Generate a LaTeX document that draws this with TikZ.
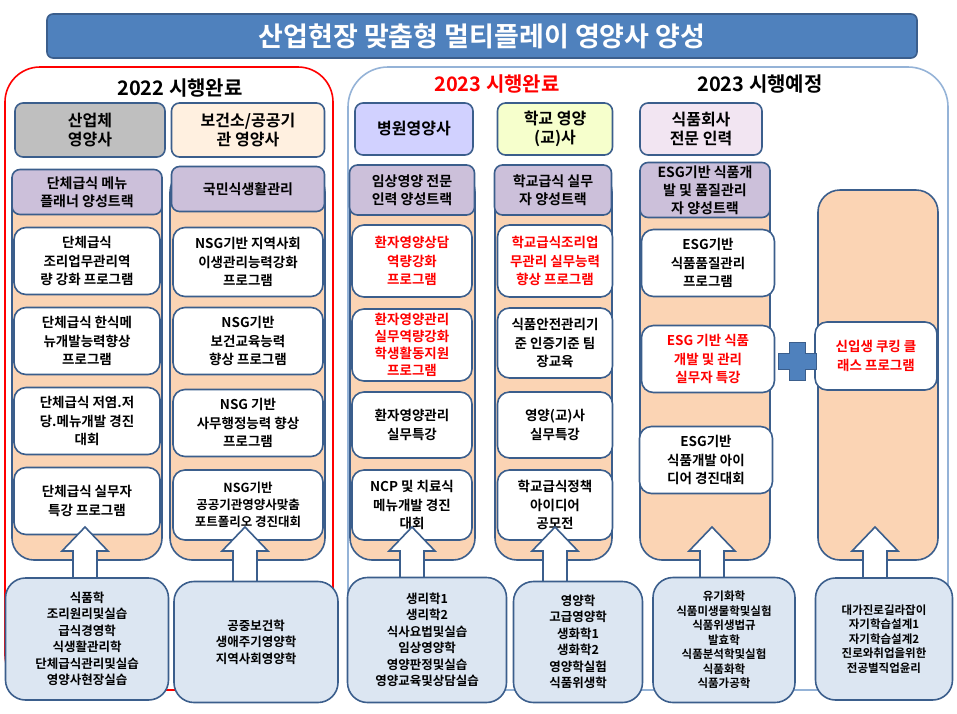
\documentclass[tikz,border=0pt]{standalone}
\usepackage{fontspec}
\setmainfont{Noto Sans CJK KR}[BoldFont={Noto Sans CJK KR Bold}]
\definecolor{edge}{HTML}{3B5E8C}
\definecolor{peach}{HTML}{FBD4B4}
\definecolor{lav}{HTML}{CCC0DA}
\definecolor{pale}{HTML}{DCE6F2}
\definecolor{titleblue}{HTML}{4F81BD}
\definecolor{frame}{HTML}{95B3D7}

\tikzset{
	col/.style={draw=edge, line width=1.6pt, fill=peach, rounded corners=22pt},
	head/.style={draw=edge, line width=1.6pt, rounded corners=8pt, align=center, font=\bfseries\fontsize{16}{19}\selectfont, inner sep=1pt},
	track/.style={draw=edge, line width=1.6pt, fill=lav, rounded corners=8pt, align=center, font=\bfseries\fontsize{14}{18}\selectfont, inner sep=1pt},
	prog/.style={draw=edge, line width=1.6pt, fill=white, rounded corners=12pt, align=center, font=\bfseries\fontsize{13.5}{18.5}\selectfont, inner sep=1pt},
	base/.style={draw=edge, line width=1.6pt, fill=pale, rounded corners=20pt, align=center, font=\bfseries\fontsize{12.5}{16.5}\selectfont, inner sep=1pt},
	uparrow/.style={draw=edge, line width=1.6pt, fill=white, line join=miter},
}

\begin{document}
\begin{tikzpicture}[x=1pt, y=-1pt]
	\useasboundingbox (0,0) rectangle (957,713);

	% title
	\node[draw=edge, line width=1.6pt, fill=titleblue, rounded corners=6pt, minimum width=870pt, minimum height=44pt, text=white, font=\bfseries\fontsize{27}{30}\selectfont] (title) at (482,36) {산업현장 맞춤형 멀티플레이 영양사 양성};

	% frames
	\draw[red, line width=1.6pt, rounded corners=35pt] (5,67) rectangle (333,690);
	\draw[frame, line width=1.6pt, rounded corners=40pt] (348,67) rectangle (948,690);
	\node[font=\bfseries\fontsize{20}{24}\selectfont] (y22) at (180,88) {2022 시행완료};
	\node[font=\bfseries\fontsize{20}{24}\selectfont, text=red] (y23a) at (497,84) {2023 시행완료};
	\node[font=\bfseries\fontsize{20}{24}\selectfont] (y23b) at (760,84) {2023 시행예정};

	% columns
	\draw[col] (12,170) rectangle (162,560);
	\draw[col] (170,170) rectangle (325,560);
	\draw[col] (350,170) rectangle (475,560);
	\draw[col] (495,170) rectangle (612,560);
	\draw[col] (640,170) rectangle (770,560);
	\draw[col] (818,190) rectangle (938,560);

	% headers
	\node[head, fill=gray!50, minimum width=150pt, minimum height=54pt] (h1) at (90,130) {산업체\\영양사};
	\node[head, fill=orange!12, minimum width=153pt, minimum height=54pt] (h2) at (248,130) {보건소/공공기\\관 영양사};
	\node[head, fill=blue!18, minimum width=118pt, minimum height=52pt] (h3) at (414,129) {병원영양사};
	\node[head, fill=green!18!yellow!20, minimum width=115pt, minimum height=52pt] (h4) at (555,129) {학교 영양\\(교)사};
	\node[head, fill=violet!10, minimum width=122pt, minimum height=52pt] (h5) at (701,129) {식품회사\\전문 인력};

	% tracks
	\node[track, minimum width=150pt, minimum height=45pt] (t1) at (87,192) {단체급식 메뉴\\플래너 양성트랙};
	\node[track, minimum width=153pt, minimum height=45pt] (t2) at (248,189) {국민식생활관리};
	\node[track, minimum width=125pt, minimum height=50pt] (t3) at (412,190) {임상영양 전문\\인력 양성트랙};
	\node[track, minimum width=117pt, minimum height=50pt] (t4) at (553,190) {학교급식 실무\\자 양성트랙};
	\node[track, minimum width=130pt, minimum height=55pt] (t5) at (705,190) {ESG기반 식품개\\발 및 품질관리\\자 양성트랙};

	% programs
	\node[prog, minimum width=146pt, minimum height=67pt] (p11) at (87,261) {단체급식\\조리업무관리역\\량 강화 프로그램};
	\node[prog, minimum width=146pt, minimum height=67pt] (p12) at (87,341) {단체급식 한식메\\뉴개발능력향상\\프로그램};
	\node[prog, minimum width=146pt, minimum height=67pt] (p13) at (87,421) {단체급식 저염.저\\당.메뉴개발 경진\\대회};
	\node[prog, minimum width=146pt, minimum height=67pt] (p14) at (87,501) {단체급식 실무자\\특강 프로그램};

	\node[prog, minimum width=150pt, minimum height=69pt] (p21) at (248,262) {NSG기반 지역사회\\이생관리능력강화\\프로그램};
	\node[prog, minimum width=150pt, minimum height=67pt] (p22) at (248,341) {NSG기반\\보건교육능력\\향상 프로그램};
	\node[prog, minimum width=150pt, minimum height=67pt] (p23) at (248,423) {NSG 기반\\사무행정능력 향상\\프로그램};
	\node[prog, minimum width=150pt, minimum height=70pt, font=\bfseries\fontsize{12.5}{17}\selectfont] (p24) at (248,505) {NSG기반\\공공기관영양사맞춤\\포트폴리오 경진대회};

	\node[prog, minimum width=120pt, minimum height=72pt, text=red] (p31) at (412,261) {환자영양상담\\역량강화\\프로그램};
	\node[prog, minimum width=120pt, minimum height=72pt, text=red, font=\bfseries\fontsize{13.5}{17}\selectfont] (p32) at (412,345) {환자영양관리\\실무역량강화\\학생활동지원\\프로그램};
	\node[prog, minimum width=120pt, minimum height=66pt] (p33) at (412,425) {환자영양관리\\실무특강};
	\node[prog, minimum width=120pt, minimum height=70pt] (p34) at (412,505) {NCP 및 치료식\\메뉴개발 경진\\대회};

	\node[prog, minimum width=115pt, minimum height=72pt, text=red] (p41) at (555,261) {학교급식조리업\\무관리 실무능력\\향상 프로그램};
	\node[prog, minimum width=115pt, minimum height=70pt] (p42) at (555,343) {식품안전관리기\\준 인증기준 팀\\장교육};
	\node[prog, minimum width=115pt, minimum height=66pt] (p43) at (555,425) {영양(교)사\\실무특강};
	\node[prog, minimum width=115pt, minimum height=70pt] (p44) at (555,505) {학교급식정책\\아이디어\\공모전};

	\node[prog, minimum width=133pt, minimum height=67pt] (p51) at (708,263) {ESG기반\\식품품질관리\\프로그램};
	\node[prog, minimum width=133pt, minimum height=67pt, text=red] (p52) at (708,359) {ESG 기반 식품\\개발 및 관리\\실무자 특강};
	\node[prog, minimum width=133pt, minimum height=67pt] (p53) at (706,460) {ESG기반\\식품개발 아이\\디어 경진대회};

	\node[prog, minimum width=122pt, minimum height=68pt, text=red] (p61) at (876,356) {신입생 쿠킹 클\\래스 프로그램};

	% plus
	\draw[fill=titleblue, draw=edge, line width=1pt] (789,342) -- (805,342) -- (805,353) -- (816,353) -- (816,369) -- (805,369) -- (805,380) -- (789,380) -- (789,369) -- (778,369) -- (778,353) -- (789,353) -- cycle;

	% arrows
	\foreach \x in {85, 245, 412, 555, 712, 875}
		\draw[uparrow] (\x,527) -- ++(23,24) -- ++(-11,0) -- ++(0,32) -- ++(-24,0) -- ++(0,-32) -- ++(-11,0) -- cycle;

	% basic courses
	\node[base, minimum width=163pt, minimum height=122pt] (b1) at (87,639) {식품학\\조리원리및실습\\급식경영학\\식생활관리학\\단체급식관리및실습\\영양사현장실습};
	\node[base, minimum width=164pt, minimum height=121pt] (b2) at (256,642) {공중보건학\\생애주기영양학\\지역사회영양학};
	\node[base, minimum width=159pt, minimum height=125pt] (b3) at (427,640) {생리학1\\생리학2\\식사요법및실습\\임상영양학\\영양판정및실습\\영양교육및상담실습};
	\node[base, minimum width=129pt, minimum height=121pt] (b4) at (578,642) {영양학\\고급영양학\\생화학1\\생화학2\\영양학실험\\식품위생학};
	\node[base, minimum width=142pt, minimum height=125pt, font=\bfseries\fontsize{11.5}{14.5}\selectfont] (b5) at (724,640) {유기화학\\식품미생물학및실험\\식품위생법규\\발효학\\식품분석학및실험\\식품화학\\식품가공학};
	\node[base, minimum width=137pt, minimum height=122pt, font=\bfseries\fontsize{11.5}{14.5}\selectfont] (b6) at (884,639) {대가진로길라잡이\\자기학습설계1\\자기학습설계2\\진로와취업을위한\\전공별직업윤리};
\end{tikzpicture}
\end{document}
